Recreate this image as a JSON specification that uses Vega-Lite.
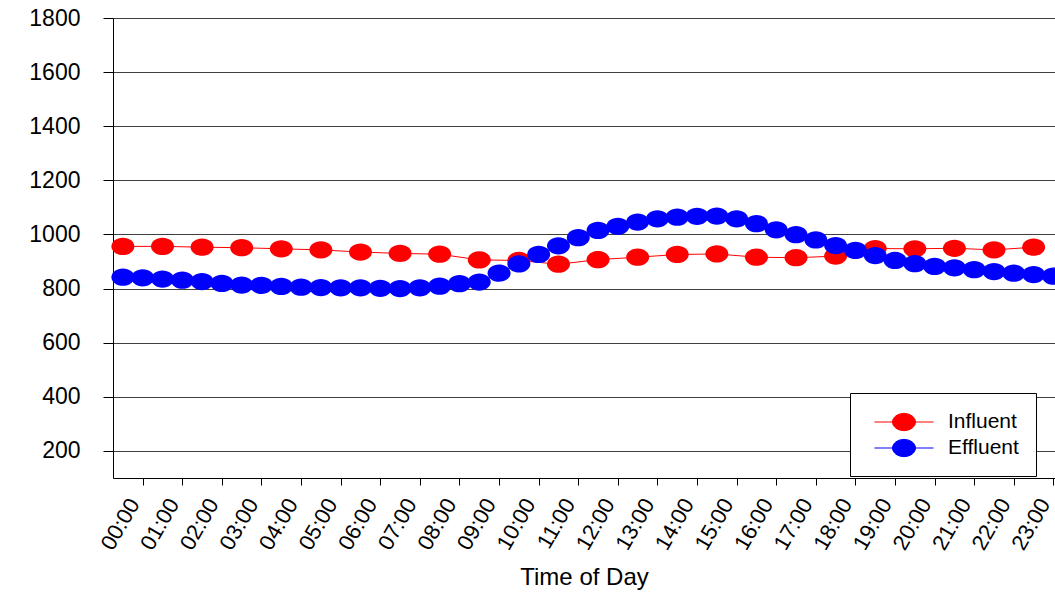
{
  "$schema": "https://vega.github.io/schema/vega-lite/v6.json",
  "width": 942,
  "height": 460,
  "autosize": {"type": "none"},
  "padding": {"left": 113, "top": 18, "right": 0, "bottom": 120},
  "background": "white",
  "config": {
    "view": {"stroke": null},
    "font": "Liberation Sans"
  },
  "data": {
    "values": [
      {"series": "Influent", "t": -0.5, "value": 956},
      {"series": "Influent", "t": 0.5, "value": 956},
      {"series": "Influent", "t": 1.5, "value": 953},
      {"series": "Influent", "t": 2.5, "value": 951},
      {"series": "Influent", "t": 3.5, "value": 947},
      {"series": "Influent", "t": 4.5, "value": 943},
      {"series": "Influent", "t": 5.5, "value": 935},
      {"series": "Influent", "t": 6.5, "value": 930},
      {"series": "Influent", "t": 7.5, "value": 927},
      {"series": "Influent", "t": 8.5, "value": 906},
      {"series": "Influent", "t": 9.5, "value": 904},
      {"series": "Influent", "t": 10.5, "value": 890},
      {"series": "Influent", "t": 11.5, "value": 907},
      {"series": "Influent", "t": 12.5, "value": 916},
      {"series": "Influent", "t": 13.5, "value": 926},
      {"series": "Influent", "t": 14.5, "value": 928},
      {"series": "Influent", "t": 15.5, "value": 916},
      {"series": "Influent", "t": 16.5, "value": 914},
      {"series": "Influent", "t": 17.5, "value": 920},
      {"series": "Influent", "t": 18.5, "value": 948},
      {"series": "Influent", "t": 19.5, "value": 947},
      {"series": "Influent", "t": 20.5, "value": 949},
      {"series": "Influent", "t": 21.5, "value": 943},
      {"series": "Influent", "t": 22.5, "value": 953},
      {"series": "Effluent", "t": -0.5, "value": 842},
      {"series": "Effluent", "t": 0, "value": 840},
      {"series": "Effluent", "t": 0.5, "value": 835},
      {"series": "Effluent", "t": 1, "value": 831},
      {"series": "Effluent", "t": 1.5, "value": 826},
      {"series": "Effluent", "t": 2, "value": 819},
      {"series": "Effluent", "t": 2.5, "value": 813},
      {"series": "Effluent", "t": 3, "value": 812},
      {"series": "Effluent", "t": 3.5, "value": 808},
      {"series": "Effluent", "t": 4, "value": 805},
      {"series": "Effluent", "t": 4.5, "value": 804},
      {"series": "Effluent", "t": 5, "value": 803},
      {"series": "Effluent", "t": 5.5, "value": 803},
      {"series": "Effluent", "t": 6, "value": 801},
      {"series": "Effluent", "t": 6.5, "value": 800},
      {"series": "Effluent", "t": 7, "value": 803},
      {"series": "Effluent", "t": 7.5, "value": 809},
      {"series": "Effluent", "t": 8, "value": 818},
      {"series": "Effluent", "t": 8.5, "value": 824},
      {"series": "Effluent", "t": 9, "value": 857},
      {"series": "Effluent", "t": 9.5, "value": 891},
      {"series": "Effluent", "t": 10, "value": 926},
      {"series": "Effluent", "t": 10.5, "value": 958},
      {"series": "Effluent", "t": 11, "value": 988},
      {"series": "Effluent", "t": 11.5, "value": 1015},
      {"series": "Effluent", "t": 12, "value": 1030},
      {"series": "Effluent", "t": 12.5, "value": 1046},
      {"series": "Effluent", "t": 13, "value": 1058},
      {"series": "Effluent", "t": 13.5, "value": 1064},
      {"series": "Effluent", "t": 14, "value": 1067},
      {"series": "Effluent", "t": 14.5, "value": 1068},
      {"series": "Effluent", "t": 15, "value": 1058},
      {"series": "Effluent", "t": 15.5, "value": 1040},
      {"series": "Effluent", "t": 16, "value": 1017},
      {"series": "Effluent", "t": 16.5, "value": 999},
      {"series": "Effluent", "t": 17, "value": 980},
      {"series": "Effluent", "t": 17.5, "value": 959},
      {"series": "Effluent", "t": 18, "value": 941},
      {"series": "Effluent", "t": 18.5, "value": 922},
      {"series": "Effluent", "t": 19, "value": 904},
      {"series": "Effluent", "t": 19.5, "value": 892},
      {"series": "Effluent", "t": 20, "value": 882},
      {"series": "Effluent", "t": 20.5, "value": 877},
      {"series": "Effluent", "t": 21, "value": 870},
      {"series": "Effluent", "t": 21.5, "value": 863},
      {"series": "Effluent", "t": 22, "value": 857},
      {"series": "Effluent", "t": 22.5, "value": 852},
      {"series": "Effluent", "t": 23, "value": 846}
    ]
  },
  "encoding": {
    "x": {
      "field": "t",
      "type": "quantitative",
      "scale": {"domain": [-0.75, 23.04], "nice": false, "zero": false},
      "axis": {
        "values": [0, 1, 2, 3, 4, 5, 6, 7, 8, 9, 10, 11, 12, 13, 14, 15, 16, 17, 18, 19, 20, 21, 22, 23],
        "labelExpr": "(datum.value < 10 ? '0' : '') + datum.value + ':00'",
        "labelAngle": -60,
        "labelFontSize": 22,
        "labelColor": "black",
        "labelPadding": 15,
        "labelOffset": -9,
        "labelOverlap": false,
        "labelFlush": false,
        "labelBound": false,
        "grid": false,
        "tickSize": 7,
        "tickColor": "black",
        "domainColor": "black",
        "title": "Time of Day",
        "titleFontSize": 24,
        "titleFontWeight": "normal",
        "titleColor": "black",
        "titlePadding": 12
      }
    },
    "y": {
      "field": "value",
      "type": "quantitative",
      "scale": {"domain": [100, 1800], "nice": false, "zero": false},
      "axis": {
        "values": [200, 400, 600, 800, 1000, 1200, 1400, 1600, 1800],
        "format": "d",
        "title": null,
        "grid": true,
        "gridColor": "#404040",
        "gridWidth": 1,
        "tickSize": 10,
        "tickColor": "black",
        "domainColor": "black",
        "labelFontSize": 23,
        "labelColor": "black",
        "labelPadding": 23
      }
    },
    "color": {
      "field": "series",
      "type": "nominal",
      "scale": {"domain": ["Influent", "Effluent"], "range": ["#ff0000", "#0000ff"]},
      "legend": {
        "title": null,
        "orient": "none",
        "legendX": 737,
        "legendY": 375,
        "padding": 17,
        "strokeColor": "black",
        "fillColor": "white",
        "symbolType": "M-2.57,0L2.57,0M-1,0A1,0.75,0,1,1,1,0A1,0.75,0,1,1,-1,0Z",
        "symbolSize": 529,
        "symbolOffset": 25,
        "symbolStrokeWidth": 1,
        "labelOffset": 32,
        "labelFontSize": 21,
        "labelColor": "black",
        "rowPadding": 3,
        "encode": {
          "symbols": {
            "update": {
              "fill": {"scale": "color", "field": "value"},
              "stroke": {"scale": "color", "field": "value"},
              "strokeWidth": {"value": 1},
              "opacity": {"value": 1}
            }
          }
        }
      }
    }
  },
  "layer": [
    {"mark": {"type": "line", "strokeWidth": 1}},
    {
      "mark": {
        "type": "point",
        "filled": true,
        "opacity": 1,
        "shape": "M-1,0A1,0.75,0,1,1,1,0A1,0.75,0,1,1,-1,0Z",
        "size": 529,
        "strokeWidth": 0
      }
    }
  ]
}
